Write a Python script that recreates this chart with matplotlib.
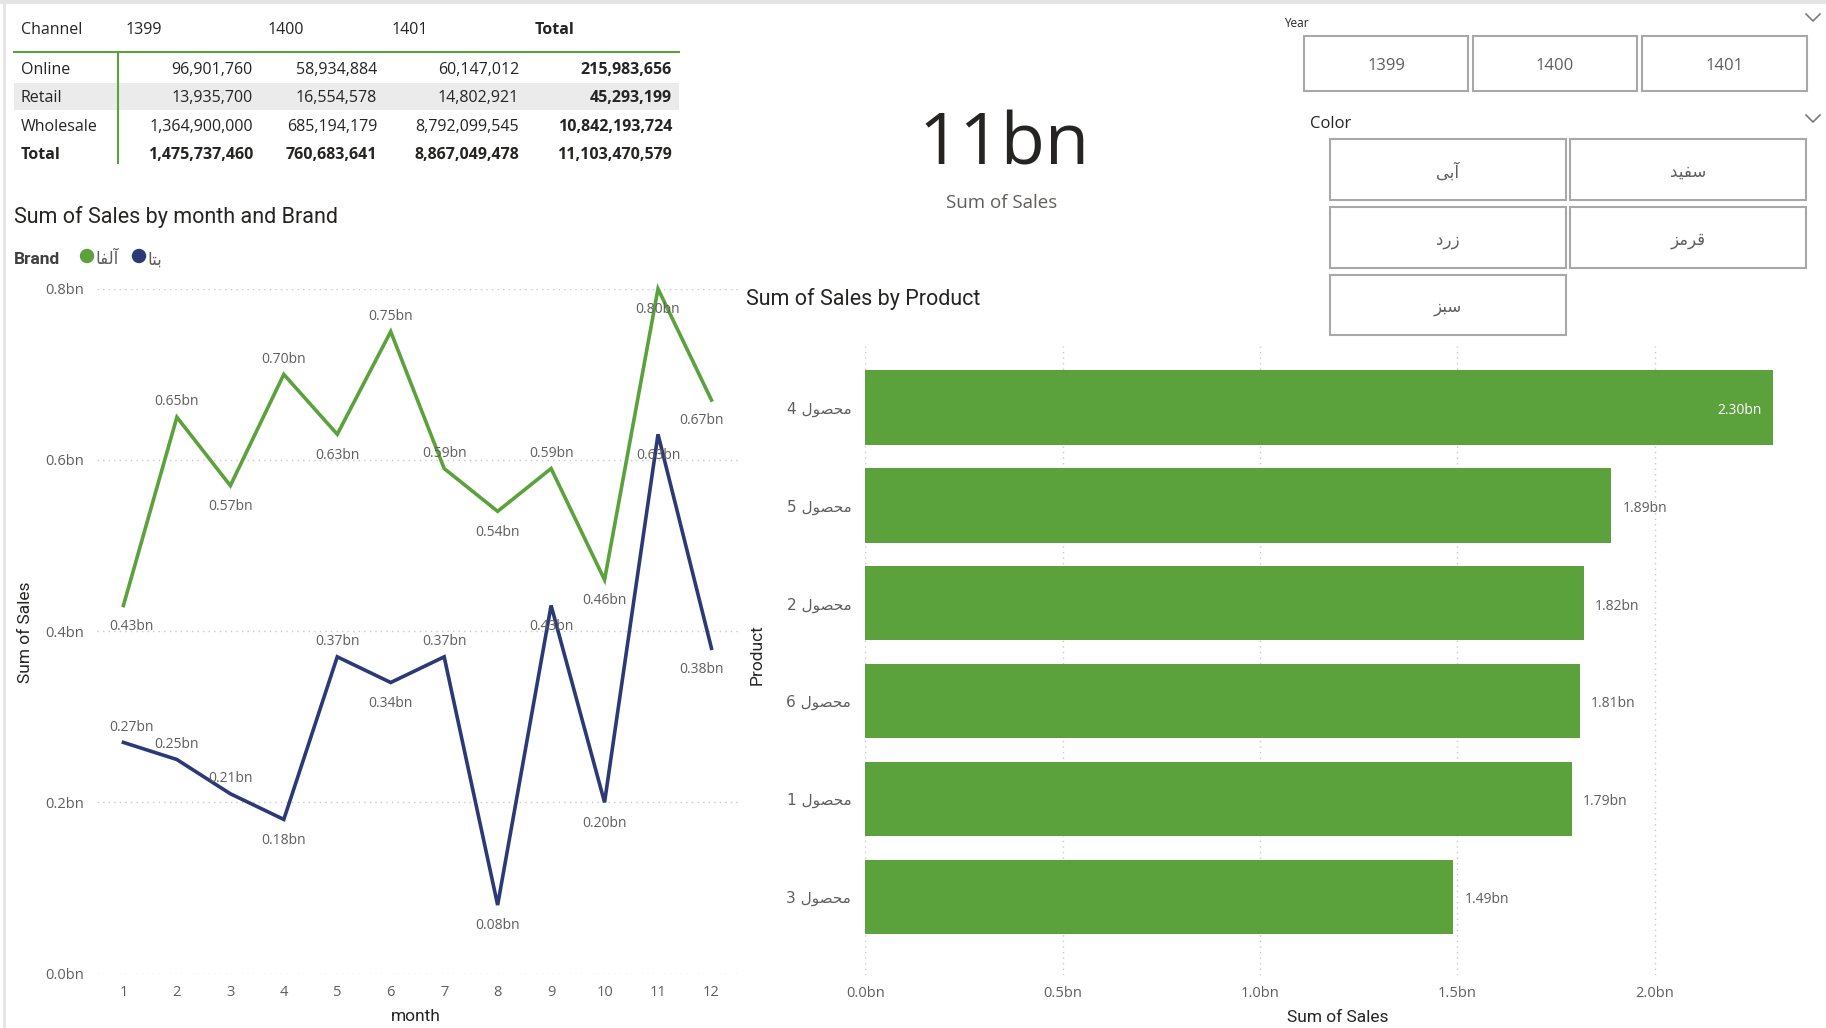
import matplotlib
matplotlib.use("Agg")
import matplotlib.pyplot as plt
from matplotlib.patches import Rectangle, Circle
from matplotlib.ticker import FuncFormatter

W, H = 1826, 1028
plt.rcParams['font.family'] = ['Open Sans', 'DejaVu Sans']

# ---------------- data ----------------
channels = ["Online", "Retail", "Wholesale"]
years = ["1399", "1400", "1401"]
online_sales = [96901760, 58934884, 60147012]
retail_sales = [13935700, 16554578, 14802921]
wholesale_sales = [1364900000, 685194179, 8792099545]

months = list(range(1, 13))
brands = ["آلفا", "بتا"]
alfa_bn = [0.43, 0.65, 0.57, 0.70, 0.63, 0.75, 0.59, 0.54, 0.59, 0.46, 0.80, 0.67]
beta_bn = [0.27, 0.25, 0.21, 0.18, 0.37, 0.34, 0.37, 0.08, 0.43, 0.20, 0.63, 0.38]

products = ["محصول 4", "محصول 5", "محصول 2", "محصول 6", "محصول 1", "محصول 3"]
product_bn = [2.30, 1.89, 1.82, 1.81, 1.79, 1.49]

color_options = ["آبی", "سفید", "زرد", "قرمز", "سبز"]

# ---------------- styling ----------------
GREEN = '#5BA23C'
NAVY = '#2B3A77'
DARK = '#252423'
GREY = '#605E5C'
GRID = '#C8C8C8'
TITLE_FONT = ['Roboto', 'DejaVu Sans']
ARABIC_FONT = ['DejaVu Sans']
DY = 2.5  # baseline nudge for page-level text

# label placement for the line chart (+1 above the point, -1 below)
alfa_side = [-1, 1, -1, 1, -1, 1, 1, -1, 1, -1, -1, -1]
beta_side = [1, 1, 1, -1, 1, -1, 1, -1, -1, -1, -1, -1]

# --------- Arabic-script shaping (presentation forms, visual order) ---------
_FORMS = {
    '\u0622': ('\uFE81', '\uFE82', None, None),
    '\u0627': ('\uFE8D', '\uFE8E', None, None),
    '\u0628': ('\uFE8F', '\uFE90', '\uFE91', '\uFE92'),
    '\u062A': ('\uFE95', '\uFE96', '\uFE97', '\uFE98'),
    '\u062D': ('\uFEA1', '\uFEA2', '\uFEA3', '\uFEA4'),
    '\u062F': ('\uFEA9', '\uFEAA', None, None),
    '\u0631': ('\uFEAD', '\uFEAE', None, None),
    '\u0632': ('\uFEAF', '\uFEB0', None, None),
    '\u0633': ('\uFEB1', '\uFEB2', '\uFEB3', '\uFEB4'),
    '\u0635': ('\uFEB9', '\uFEBA', '\uFEBB', '\uFEBC'),
    '\u0641': ('\uFED1', '\uFED2', '\uFED3', '\uFED4'),
    '\u0642': ('\uFED5', '\uFED6', '\uFED7', '\uFED8'),
    '\u0644': ('\uFEDD', '\uFEDE', '\uFEDF', '\uFEE0'),
    '\u0645': ('\uFEE1', '\uFEE2', '\uFEE3', '\uFEE4'),
    '\u0648': ('\uFEED', '\uFEEE', None, None),
    '\u06CC': ('\uFEEF', '\uFEF0', '\uFEF3', '\uFEF4'),
}


def _shape_word(word):
    out = []
    n = len(word)
    for i, ch in enumerate(word):
        f = _FORMS.get(ch)
        if f is None:
            out.append(ch)
            continue
        prev = word[i - 1] if i > 0 else None
        nxt = word[i + 1] if i < n - 1 else None
        joins_prev = prev in _FORMS and _FORMS[prev][2] is not None
        joins_next = f[2] is not None and nxt in _FORMS
        if joins_prev and joins_next:
            g = f[3]
        elif joins_prev:
            g = f[1]
        elif joins_next:
            g = f[2]
        else:
            g = f[0]
        out.append(g)
    return ''.join(reversed(out))


def rtl(text):
    tokens = text.split(' ')
    shaped = [_shape_word(t) if any(c in _FORMS for c in t) else t for t in tokens]
    return ' '.join(reversed(shaped))


def bn(v, nd=2):
    return f"{v:.{nd}f}bn"


# ---------------- figure & page overlay ----------------
fig = plt.figure(figsize=(W / 100, H / 100), dpi=100)
fig.patch.set_facecolor('white')
page = fig.add_axes([0, 0, 1, 1])
page.set_xlim(0, W)
page.set_ylim(H, 0)
page.axis('off')


def put(x, y, s, **kw):
    kw.setdefault('va', 'center')
    return page.text(x, y + DY, s, **kw)


# page frame
page.plot([0, W], [2, 2], color='#E4E4E4', lw=3)
page.plot([4, 4], [0, H], color='#E4E4E4', lw=2)

# ---------------- matrix table ----------------
rows = [online_sales, retail_sales, wholesale_sales]
row_tot = [sum(r) for r in rows]
col_tot = [sum(c) for c in zip(*rows)]
grand = sum(row_tot)

head_x = [126, 268, 392, 535]
col_right = [253, 377, 519, 672]
row_y = [67.5, 96, 124.5, 152.5]
tfs = 11.5

page.add_patch(Rectangle((14, 83), 665, 27, color='#EBEBEB', lw=0))
page.plot([14, 679], [52, 52], color=GREEN, lw=1.5)
page.plot([118, 118], [52, 163], color=GREEN, lw=1.5)

put(21, 27, "Channel", fontsize=tfs, color=DARK)
for x, y in zip(head_x, years):
    put(x, 27, y, fontsize=tfs, color=DARK)
put(head_x[3], 27, "Total", fontsize=tfs, color=DARK, weight='bold')

for ry, name, vals, tot in zip(row_y, channels, rows, row_tot):
    put(21, ry, name, fontsize=tfs, color=DARK)
    for x, v in zip(col_right, vals):
        put(x, ry, f"{v:,}", fontsize=tfs, color=DARK, ha='right')
    put(col_right[3], ry, f"{tot:,}", fontsize=tfs, color=DARK, ha='right', weight='bold')
put(21, row_y[3], "Total", fontsize=tfs, color=DARK, weight='bold')
for x, v in zip(col_right, col_tot + [grand]):
    put(x, row_y[3], f"{v:,}", fontsize=tfs, color=DARK, ha='right', weight='bold')

# ---------------- card ----------------
put(1004, 143, f"{round(grand / 1e9)}bn", fontsize=52, color=DARK, ha='center')
put(1002, 201, "Sum of Sales", fontsize=13.5, color=GREY, ha='center')

# ---------------- slicers ----------------
def chevron(x, y):
    page.plot([x - 7, x, x + 7], [y - 4, y + 3, y - 4], color='#7A7A7A', lw=1.2)

put(1284, 21, "Year", fontsize=8.5, color=DARK)
chevron(1813, 18)
year_boxes = [(1304, 1468), (1473, 1637), (1642, 1807)]
for (x0, x1), y in zip(year_boxes, years):
    page.add_patch(Rectangle((x0, 36), x1 - x0, 55, fill=False, ec='#A8A8A8', lw=1.5))
    put((x0 + x1) / 2, 64, y, fontsize=12, color=GREY, ha='center')

put(1310, 121, "Color", fontsize=12, color=DARK)
chevron(1813, 119)
color_boxes = [(1330, 1566, 139, 200), (1570, 1806, 139, 200),
               (1330, 1566, 207, 268), (1570, 1806, 207, 268),
               (1330, 1566, 275, 335)]
for (x0, x1, y0, y1), c in zip(color_boxes, color_options):
    page.add_patch(Rectangle((x0, y0), x1 - x0, y1 - y0, fill=False, ec='#A8A8A8', lw=1.5))
    put((x0 + x1) / 2, (y0 + y1) / 2, rtl(c), fontsize=12, color=GREY,
        ha='center', family=ARABIC_FONT)

# ---------------- line chart: sales by month and brand ----------------
put(14, 215, "Sum of Sales by month and Brand", fontsize=15.5, color=DARK,
    family=TITLE_FONT)
put(14, 257, "Brand", fontsize=12.5, color='#404040', weight='bold', family=TITLE_FONT)
page.add_patch(Circle((87, 256), 6.5, color=GREEN))
put(95, 257, rtl(brands[0]), fontsize=12, color=GREY, family=ARABIC_FONT)
page.add_patch(Circle((139, 256), 6.5, color=NAVY))
put(147, 257, rtl(brands[1]), fontsize=12, color=GREY, family=ARABIC_FONT)

ax1 = fig.add_axes([96.7 / W, 1 - 973.5 / H, (738.2 - 96.7) / W, (973.5 - 288.8) / H])
ax1.set_xlim(0.5, 12.5)
ax1.set_ylim(0, 0.8)
ax1.patch.set_alpha(0)
for s in ax1.spines.values():
    s.set_visible(False)
ax1.set_yticks([0, 0.2, 0.4, 0.6, 0.8])
ax1.set_xticks(months)
ax1.yaxis.set_major_formatter(FuncFormatter(lambda v, p: f"{v:.1f}bn"))
ax1.tick_params(axis='both', length=0, labelsize=10.5, labelcolor=GREY)
ax1.tick_params(axis='y', pad=9)
ax1.tick_params(axis='x', pad=8)
ax1.grid(axis='y', color=GRID, linestyle=(0, (1, 3)), lw=1)
ax1.set_axisbelow(True)

for vals, col in ((alfa_bn, GREEN), (beta_bn, NAVY)):
    ax1.plot(months, vals, color=col, lw=2.6, clip_on=False, solid_joinstyle='miter')
for vals, sides in ((alfa_bn, alfa_side), (beta_bn, beta_side)):
    for m, v, s in zip(months, vals, sides):
        dx = 6 if m == 1 else (-7 if m == 12 else 0)
        ax1.annotate(bn(v), (m, v), xytext=(dx, 13 * s - 2), textcoords='offset points',
                     ha='center', va='center', fontsize=10, color=GREY,
                     annotation_clip=False)

put(26, 630, "Sum of Sales", fontsize=12.5, color=DARK, rotation=90,
    ha='center', family=TITLE_FONT)
put(416, 1014, "month", fontsize=12.5, color=DARK, ha='center', family=TITLE_FONT)

# ---------------- bar chart: sales by product ----------------
put(746, 297, "Sum of Sales by Product", fontsize=15.5, color=DARK, family=TITLE_FONT)

ax2 = fig.add_axes([865.2 / W, 1 - 975 / H, (1793 - 865.2) / W, (975 - 346) / H])
ypos = list(range(len(products)))
ax2.barh(ypos, product_bn, height=0.76, color=GREEN, zorder=2)
ax2.set_xlim(0, 2.35)
ax2.set_ylim(5.8, -0.63)
ax2.patch.set_alpha(0)
for s in ax2.spines.values():
    s.set_visible(False)
ax2.set_yticks(ypos)
ax2.set_yticklabels([rtl(p) for p in products], family=ARABIC_FONT)
ax2.set_xticks([0, 0.5, 1.0, 1.5, 2.0])
ax2.xaxis.set_major_formatter(FuncFormatter(lambda v, p: f"{v:.1f}bn"))
ax2.tick_params(axis='both', length=0, labelcolor=GREY)
ax2.tick_params(axis='x', labelsize=10.5, pad=8)
ax2.tick_params(axis='y', labelsize=11, pad=10)
ax2.grid(axis='x', color=GRID, linestyle=(0, (1, 3)), lw=1, zorder=0)
ax2.set_axisbelow(True)

xmax = ax2.get_xlim()[1]
for y, v in zip(ypos, product_bn):
    if v > xmax - 0.2:
        ax2.annotate(bn(v), (v, y), xytext=(-8, -2), textcoords='offset points',
                     ha='right', va='center', fontsize=10, color='white', zorder=3)
    else:
        ax2.annotate(bn(v), (v, y), xytext=(8, -2), textcoords='offset points',
                     ha='left', va='center', fontsize=10, color=GREY, zorder=3)

put(757, 652, "Product", fontsize=12.5, color=DARK, rotation=90,
    ha='center', family=TITLE_FONT)
put(1338, 1015, "Sum of Sales", fontsize=12.5, color=DARK, ha='center',
    family=TITLE_FONT)

fig.savefig("out.png", dpi=100, facecolor='white')
